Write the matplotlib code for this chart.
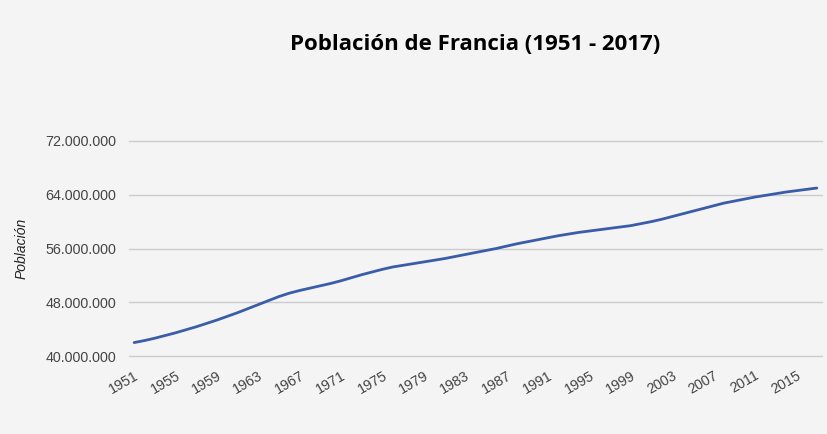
import matplotlib
matplotlib.use("Agg")
import matplotlib.pyplot as plt
from matplotlib.ticker import FuncFormatter

years = list(range(1951, 2018))
population_millions = [
    42.0, 42.3, 42.65, 43.05, 43.45, 43.9, 44.35, 44.85, 45.35, 45.9,
    46.45, 47.05, 47.65, 48.25, 48.85, 49.35, 49.75, 50.1, 50.45, 50.8,
    51.2, 51.65, 52.1, 52.5, 52.9, 53.25, 53.5, 53.75, 54.0, 54.25,
    54.5, 54.8, 55.1, 55.4, 55.7, 56.0, 56.35, 56.7, 57.0, 57.3,
    57.6, 57.9, 58.15, 58.4, 58.6, 58.8, 59.0, 59.2, 59.4, 59.7,
    60.0, 60.35, 60.75, 61.15, 61.55, 61.95, 62.35, 62.75, 63.05, 63.35,
    63.65, 63.9, 64.15, 64.4, 64.6, 64.8, 65.0,
]
population = [v * 1e6 for v in population_millions]
y_ticks = [40e6, 48e6, 56e6, 64e6, 72e6]
title = "Población de Francia (1951 - 2017)"
y_label = "Población"

bg = "#f4f4f4"
fig = plt.figure(figsize=(8.27, 4.34), dpi=100, facecolor=bg)
ax = fig.add_axes([129 / 827, 1 - 356 / 434, (822 - 129) / 827, (356 - 141) / 434])
ax.set_facecolor(bg)

x = list(range(len(years)))
ax.plot(x, population, color="#3a5daa", linewidth=2.0, solid_capstyle="round",
        solid_joinstyle="round")

ax.set_xlim(-0.5, len(years) - 0.5)
ax.set_ylim(40e6, 72e6)
ax.set_yticks(y_ticks)
ax.yaxis.set_major_formatter(FuncFormatter(lambda v, p: f"{int(v):,}".replace(",", ".")))
ax.grid(axis="y", color="#cccccc", linewidth=1)
for gl in ax.get_ygridlines():
    gl.set_clip_on(False)
ax.set_axisbelow(True)

tick_idx = list(range(0, len(years), 4))
ax.set_xticks(tick_idx)
ax.set_xticklabels([str(years[i]) for i in tick_idx], rotation=30, ha="right",
                   rotation_mode="anchor")

for s in ax.spines.values():
    s.set_visible(False)
ax.tick_params(axis="both", length=0, colors="#444444", labelsize=10.3)
ax.tick_params(axis="y", pad=9)
ax.tick_params(axis="x", pad=9)
for lbl in ax.get_xticklabels() + ax.get_yticklabels():
    lbl.set_fontfamily("Liberation Sans")

ax.set_ylabel(y_label, fontstyle="italic", fontsize=10, color="#222222",
              fontfamily="Liberation Sans", labelpad=0)
ax.yaxis.set_label_coords(-100 / 693, 0.5)

fig.text(475 / 827, 1 - 45 / 434, title, ha="center", va="center",
         fontsize=16, fontweight="bold", color="#000000", fontfamily="Open Sans")

fig.savefig("out.png", dpi=100, facecolor=bg)
